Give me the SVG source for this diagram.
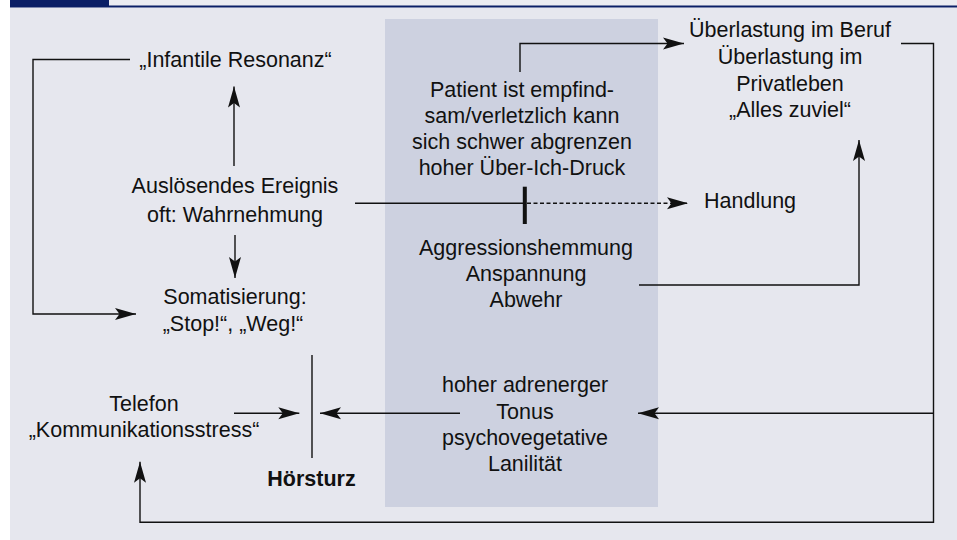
<svg xmlns="http://www.w3.org/2000/svg" width="957" height="540" viewBox="0 0 957 540">
<style>
text{font-family:"Liberation Sans",Arial,sans-serif;font-size:21.5px;fill:#111;text-anchor:middle}
.b{font-weight:bold}
.s{text-anchor:start}
.ln{fill:none;stroke:#111;stroke-width:1.4}
.arr{marker-end:url(#ah)}
.dash{stroke-dasharray:4 2.5}
</style>
<defs>
<marker id="ah" markerUnits="userSpaceOnUse" viewBox="-22 -7 23 14" markerWidth="23" markerHeight="14" refX="0" refY="0" orient="auto">
<path d="M0,0 L-21,-6 L-16.5,0 L-21,6 Z" fill="#111"/>
</marker>
</defs>
<rect x="0" y="0" width="957" height="540" fill="#ffffff"/>
<rect x="109" y="0" width="848" height="6" fill="#ebecf1"/>
<rect x="10" y="0" width="99" height="6" fill="#0b1f66"/>
<rect x="10" y="7.5" width="947" height="533" fill="#e6e7ee"/>
<rect x="10" y="5.5" width="947" height="2" fill="#0b1f66"/>
<rect id="panel" x="385" y="19" width="273" height="488" fill="#cdd1e0"/>

<g id="connectors">
<path class="ln arr" d="M130,59.5 H33 V314 H136"/>
<path class="ln arr" d="M234,166 V86.5"/>
<path class="ln arr" d="M235,235 V278"/>
<path class="ln" d="M355,203.3 H524"/>
<rect x="522.8" y="186.7" width="4" height="37.3" fill="#111"/>
<path class="ln dash arr" d="M527,203.3 H688"/>
<path class="ln arr" d="M520,72 V43.5 H684"/>
<path class="ln arr" d="M639,285 H859 V140"/>
<path class="ln arr" d="M901,43.5 H933.5 V522.3 H140 V461.7"/>
<path class="ln arr" d="M933.5,413.3 H638"/>
<path class="ln arr" d="M460,413.3 H320"/>
<path class="ln arr" d="M234,413.3 H299.3"/>
</g>

<g id="infantile"><text x="235.5" y="67">„Infantile Resonanz“</text></g>
<g id="ausloesend"><text x="235" y="193">Auslösendes Ereignis</text><text x="235" y="222">oft: Wahrnehmung</text></g>
<g id="somatisierung"><text x="235" y="304">Somatisierung:</text><text x="233" y="331">„Stop!“, „Weg!“</text></g>
<g id="telefon"><text x="144" y="411">Telefon</text><text x="144" y="437">„Kommunikationsstress“</text></g>
<g id="hoersturz"><path class="ln" d="M312,355 V458"/><text class="b" x="311.5" y="486">Hörsturz</text></g>
<g id="patient"><text x="522" y="97">Patient ist empfind-</text><text x="522" y="123">sam/verletzlich kann</text><text x="522" y="149">sich schwer abgrenzen</text><text x="522" y="175">hoher Über-Ich-Druck</text></g>
<g id="aggression"><text x="526" y="255">Aggressionshemmung</text><text x="526" y="281">Anspannung</text><text x="526" y="307">Abwehr</text></g>
<g id="adrenerg"><text x="525" y="392">hoher adrenerger</text><text x="525" y="419">Tonus</text><text x="525" y="445">psychovegetative</text><text x="525" y="471">Lanilität</text></g>
<g id="ueberlastung"><text x="790" y="37">Überlastung im Beruf</text><text x="790" y="64">Überlastung im</text><text x="790" y="90.5">Privatleben</text><text x="790" y="117">„Alles zuviel“</text></g>
<g id="handlung"><text class="s" x="704" y="208">Handlung</text></g>
</svg>
